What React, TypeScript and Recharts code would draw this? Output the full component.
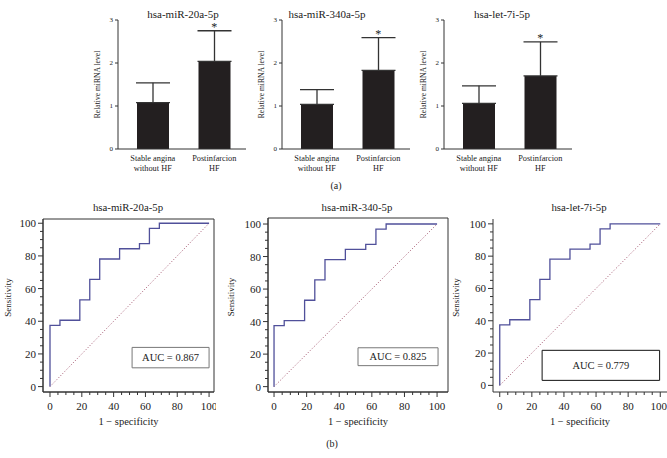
import {
  BarChart, Bar, ErrorBar, XAxis, YAxis, ReferenceDot,
  LineChart, Line, ReferenceLine, ReferenceArea
} from "recharts"

const FONT = '"Liberation Serif", "DejaVu Serif", serif'
const INK = "#222"
const AXIS = "#333"

// (a) relative expression, mean + SD
const groups = ["Stable angina\nwithout HF", "Postinfarcion\nHF"]
const mirTitles = ["hsa-miR-20a-5p", "hsa-miR-340a-5p", "hsa-let-7i-5p"]
const mir20aMean = [1.08, 2.04]
const mir20aErr = [0.46, 0.71]
const mir340aMean = [1.04, 1.83]
const mir340aErr = [0.34, 0.76]
const let7iMean = [1.06, 1.70]
const let7iErr = [0.41, 0.79]
const levelTicks = [0, 1, 2, 3]

// (b) ROC curves (same step curve in all three panels)
const rocTitles = ["hsa-miR-20a-5p", "hsa-miR-340-5p", "hsa-let-7i-5p"]
const aucLabels = ["AUC = 0.867", "AUC = 0.825", "AUC = 0.779"]
const fpr = [0, 0, 6.25, 18.75, 25, 31.25, 43.75, 56.25, 62.5, 68.75, 100]
const tpr = [0, 37.5, 40.625, 53.125, 65.625, 78.125, 84.375, 87.5, 96.875, 100, 100]
const chance = [0, 100]
const rocTicks = Array.from({ length: 21 }, (_, i) => i * 5)

const barPanels = [
  { axisX: 118, titleX: 183, means: mir20aMean, errs: mir20aErr },
  { axisX: 282, titleX: 327, means: mir340aMean, errs: mir340aErr },
  { axisX: 444, titleX: 502, means: let7iMean, errs: let7iErr },
]

const rocPanels = [
  { left: 0, yw: 43, width: 216, mt: 19, mr: 2, xd: [-4.4, 103.1], yd: [-3.3, 102.6], frame: true,
    box: [51.6, 100, 11.5, 24], boxStroke: "#777", titleX: 128, lastShift: 0 },
  { left: 223, yw: 45, width: 227, mt: 18, mr: 2, xd: [-3.7, 106.7], yd: [-3.3, 103.7], frame: true,
    box: [51.5, 100.6, 12.9, 23.9], boxStroke: "#777", titleX: 357, lastShift: 0 },
  { left: 448, yw: 45, width: 219, mt: 19, mr: 0, xd: [-4.2, 104.2], yd: [-4.1, 103], frame: false,
    box: [26.4, 99.6, 3.1, 21.7], boxStroke: "#111", titleX: 579, lastShift: -1.5 },
]

function GroupTick({ x, y, payload }: any) {
  const lines = String(payload.value).split("\n")
  return (
    <text x={x} y={y} textAnchor="middle" fontSize={8.3} fontFamily={FONT} style={{ fill: INK }}>
      {lines.map((l, i) => (
        <tspan key={i} x={x} dy={i === 0 ? 12 : 10}>{l}</tspan>
      ))}
    </text>
  )
}

function RocXTick({ x, y, payload, lastShift }: any) {
  const major = payload.value % 20 === 0
  const dx = payload.value === 100 ? lastShift : 0
  return (
    <g>
      <line x1={x} x2={x} y1={y} y2={y + (major ? 5 : 3)} stroke={AXIS} />
      {major && (
        <text x={x + dx} y={y + 18} textAnchor="middle" fontSize={11} fontFamily={FONT} style={{ fill: INK }}>
          {payload.value}
        </text>
      )}
    </g>
  )
}

function RocYTick({ x, y, payload }: any) {
  const major = payload.value % 20 === 0
  return (
    <g>
      <line x1={x} x2={x - (major ? 5 : 3)} y1={y} y2={y} stroke={AXIS} />
      {major && (
        <text x={x - 7} y={y + 4} textAnchor="end" fontSize={11} fontFamily={FONT} style={{ fill: INK }}>
          {payload.value}
        </text>
      )}
    </g>
  )
}

function BarPanel({ title, axisX, titleX, means, errs }: any) {
  const data = groups.map((g, i) => ({ group: g, mean: means[i], err: [0, errs[i]] }))
  return (
    <>
      <div style={{ position: "absolute", left: titleX - 70, width: 140, top: 8, lineHeight: "13px",
        textAlign: "center", fontSize: 11, fontFamily: FONT, color: INK }}>{title}</div>
      <div style={{ position: "absolute", left: axisX - 60, top: 0 }}>
        <BarChart width={193} height={185} data={data} margin={{ top: 20, right: 5, bottom: 0, left: 0 }}>
          <XAxis dataKey="group" tick={<GroupTick />} tickLine={false} tickSize={0} tickMargin={0}
            height={36} axisLine={{ stroke: AXIS }} padding={{ left: 4, right: 1 }} interval={0} />
          <YAxis type="number" domain={[0, 3]} ticks={levelTicks} width={60} tickSize={3} tickMargin={2}
            tick={{ fontSize: 7, fill: INK, fontFamily: FONT }} axisLine={{ stroke: AXIS }} tickLine={{ stroke: AXIS }}
            label={{
              content: (p: any) => {
                const vb = p.viewBox
                const cx = vb.x + vb.width - 21
                const cy = vb.y + vb.height / 2
                return (
                  <text x={cx} y={cy} transform={`rotate(-90 ${cx} ${cy})`} textAnchor="middle"
                    dominantBaseline="central" fontSize={7.6} fontFamily={FONT} style={{ fill: INK }}>
                    Relative miRNA level
                  </text>
                )
              },
            }} />
          <Bar dataKey="mean" fill="#231f20" barSize={32} isAnimationActive={false}>
            <ErrorBar dataKey="err" width={17} stroke={AXIS} strokeWidth={1.3} direction="y" isAnimationActive={false} />
          </Bar>
          <ReferenceDot x={groups[1]} y={means[1] + errs[1]} r={0} stroke="none"
            label={{ value: "*", position: "top", offset: 0, fontSize: 12, fill: INK, fontFamily: FONT }} />
        </BarChart>
      </div>
    </>
  )
}

function RocPanel({ cfg, title, auc }: any) {
  const data = fpr.map((x, i) => ({ fpr: x, tpr: tpr[i] }))
  const [bx1, bx2, by1, by2] = cfg.box
  return (
    <>
      <div style={{ position: "absolute", left: cfg.titleX - 70, width: 140, top: 201, lineHeight: "13px",
        textAlign: "center", fontSize: 10.8, fontFamily: FONT, color: INK }}>{title}</div>
      <div style={{ position: "absolute", left: cfg.left, top: 200 }}>
        <LineChart width={cfg.width} height={227} data={data}
          margin={{ top: cfg.mt, right: cfg.mr, bottom: 0, left: 0 }}>
          <XAxis type="number" dataKey="fpr" domain={cfg.xd} ticks={rocTicks} allowDataOverflow
            interval={0} tick={<RocXTick lastShift={cfg.lastShift} />} tickLine={false} tickSize={0} tickMargin={0}
            height={35} axisLine={{ stroke: AXIS }}
            label={{ value: "1 − specificity", position: "insideBottom", offset: 2, fontSize: 10.5,
              fill: INK, fontFamily: FONT }} />
          <YAxis type="number" domain={cfg.yd} ticks={rocTicks} allowDataOverflow interval={0}
            tick={<RocYTick />} tickLine={false} tickSize={0} tickMargin={0} width={cfg.yw}
            axisLine={{ stroke: AXIS }}
            label={{
              content: (p: any) => {
                const vb = p.viewBox
                const cx = vb.x + 8
                const cy = vb.y + vb.height / 2 - 8
                return (
                  <text x={cx} y={cy} transform={`rotate(-90 ${cx} ${cy})`} textAnchor="middle"
                    dominantBaseline="central" fontSize={9} fontFamily={FONT} style={{ fill: INK }}>
                    Sensitivity
                  </text>
                )
              },
            }} />
          {cfg.frame && (
            <ReferenceArea x1={cfg.xd[0]} x2={cfg.xd[1]} y1={cfg.yd[0]} y2={cfg.yd[1]}
              fill="none" fillOpacity={0} stroke={AXIS} strokeWidth={1} ifOverflow="visible" />
          )}
          <ReferenceLine segment={[{ x: chance[0], y: chance[0] }, { x: chance[1], y: chance[1] }]}
            stroke="#a0506a" strokeDasharray="1 2" strokeWidth={1} ifOverflow="visible" />
          <Line type="stepAfter" dataKey="tpr" stroke="#50509a" strokeWidth={1.3} dot={false}
            isAnimationActive={false} />
          <ReferenceArea x1={bx1} x2={bx2} y1={by1} y2={by2} fill="#fff" fillOpacity={1}
            stroke={cfg.boxStroke} strokeWidth={1} ifOverflow="visible"
            label={{ value: auc, position: "center", fontSize: 10.5, fill: INK, fontFamily: FONT }} />
        </LineChart>
      </div>
    </>
  )
}

export default function App() {
  return (
    <div style={{ position: "absolute", left: 0, top: 0, width: 667, height: 458, background: "#fff",
      overflow: "hidden" }}>
      {barPanels.map((p, i) => (
        <BarPanel key={i} title={mirTitles[i]} {...p} />
      ))}
      <div style={{ position: "absolute", left: 316, width: 40, top: 180, lineHeight: "12px", textAlign: "center",
        fontSize: 10, fontFamily: FONT, color: INK }}>(a)</div>
      {rocPanels.map((cfg, i) => (
        <RocPanel key={i} cfg={cfg} title={rocTitles[i]} auc={aucLabels[i]} />
      ))}
      <div style={{ position: "absolute", left: 312, width: 40, top: 438, lineHeight: "12px", textAlign: "center",
        fontSize: 10, fontFamily: FONT, color: INK }}>(b)</div>
    </div>
  )
}
